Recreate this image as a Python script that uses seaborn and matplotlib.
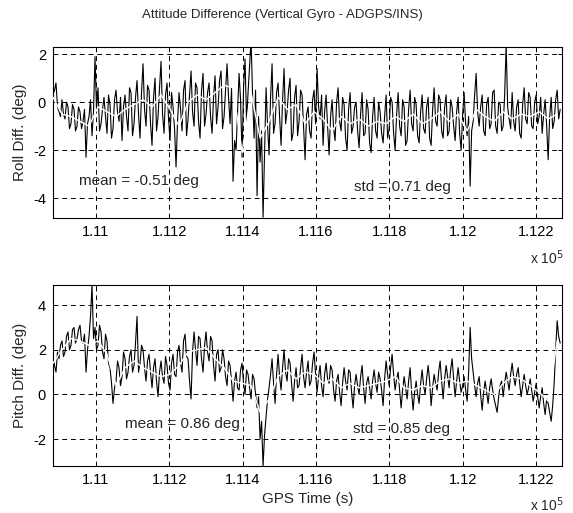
import numpy as np
import pandas as pd
import matplotlib
matplotlib.use("Agg")
import matplotlib.pyplot as plt
import seaborn as sns

# ---------------- data ----------------
# sample times (s); samples are evenly spaced between the first and last time
t_start, t_end_raw, t_end_smooth = 110883.0, 112266.0, 112258.0

roll_raw = [
    0.3, 0.5, 0.8, -0.2, -0.4, -0.6, 0.1, -0.5, -0.7, 0.0, -0.2, -1.1, -0.9, -0.1, -0.3, -1.2, -1.0, -0.2, -0.4, -1.1,
    -0.8, -0.3, -2.3, -0.9, -0.6, 0.1, -1.4, -0.4, 1.9, -0.3, 0.6, -1.2, -0.9, -0.3, 0.2, -0.6, -1.3, 0.3, -0.1, -1.5,
    -1.1, 0.1, 0.5, -0.4, -0.8, 0.2, -1.6, -0.2, 0.3, -0.6, -1.2, 0.6, 0.4, -1.4, -0.9, 0.2, 0.9, -0.5, -1.5, 0.4,
    1.6, -0.3, -1.0, 0.7, 0.5, -0.9, -1.8, 0.2, 1.0, -1.2, -0.6, 0.6, 1.7, -0.5, -1.3, 0.3, 0.8, -0.7, -1.6, 0.4,
    -0.2, -1.1, -2.7, -0.8, 0.4, -0.3, -1.2, 0.5, 0.9, -1.4, -0.7, 0.3, 1.3, -0.4, -1.0, 0.8, 0.6, -0.8, -1.5, 0.5,
    1.2, -1.0, -0.5, 0.4, 0.8, -0.6, -1.3, 0.2, 1.1, -0.9, -0.2, 0.9, 1.3, -1.1, -0.6, 0.5, 1.6, 0.2, -0.9, 0.6,
    -3.3, -1.6, -2.0, -0.4, 1.2, 0.1, -2.3, 0.6, 1.8, -0.8, 0.4, 1.5, 2.6, 0.3, -1.5, 0.5, -3.9, -0.6, -2.5, -1.2,
    -4.8, -2.0, 0.6, -1.0, -2.2, 0.2, 1.6, -1.3, -0.9, 0.4, 0.8, -0.6, -1.8, 0.1, 1.4, -0.9, -0.4, 0.5, 1.0, -1.6,
    -1.3, 0.2, 0.7, -1.4, -0.8, 0.5, 0.3, -1.1, -2.4, -0.5, -0.2, -1.2, -1.5, 0.1, 0.5, -0.9, 1.4, -0.2, -0.7, 0.3,
    -1.8, -0.4, 0.3, -1.0, -2.2, -0.6, 0.1, -1.1, -1.6, 0.0, 0.6, -0.8, -1.2, 0.2, -0.1, -1.5, -2.0, -0.3, 0.4, -1.3,
    -1.0, -0.2, 0.0, -1.2, -1.9, -0.5, 0.4, -1.4, -1.3, 0.1, -0.3, -1.7, -2.1, -0.6, 0.2, -1.2, -1.5, 0.0, -0.4, -1.3,
    -1.7, -0.6, 0.3, -1.5, -1.1, 0.2, 0.0, -1.3, -2.0, -0.5, 0.4, -1.0, -1.4, 0.1, -0.2, -1.8, -1.6, -0.3, 0.5, -0.9,
    -1.2, 0.2, -0.1, -1.4, -1.7, -0.4, 0.3, -1.1, -1.3, -0.2, 0.2, -1.5, -1.8, -0.3, 0.6, -0.8, -1.0, 0.3, 0.1, -1.2,
    -1.5, -0.2, 0.3, -1.4, -1.2, 0.1, -0.2, -1.0, -1.6, -0.4, 0.2, -1.3, -2.0, -0.5, 0.4, -0.9, -1.4, -0.6, -3.5, -1.2,
    -0.8, 0.3, 1.2, -0.4, -1.0, -0.2, 0.3, -1.2, -1.4, -0.1, 0.2, -1.1, -0.9, 0.4, 0.5, -1.0, -1.3, 0.0, -0.1, -1.2,
    -1.0, 0.3, 2.4, -0.2, -0.7, -1.1, 0.4, -0.8, -1.2, -0.2, 0.1, -1.3, -1.5, -0.1, 0.6, -0.7, -0.9, 0.4, 0.2, -1.0,
    -1.1, 0.0, 0.3, -0.9, -0.6, 0.2, -1.3, -0.5, 0.1, -1.0, -2.4, -0.6, 0.2, -1.1, -0.8, 0.1, 0.5, -0.7, -0.3,
]

roll_smooth = [
    0.2, -0.5, -0.6, -0.8, -1.0, -0.2, -0.4, -0.6, -0.3, -0.1,
    0.1, -0.2, 0.3, -0.3, -1.0, 0.0, 0.3, 0.1, 0.4, 0.7,
    0.6, -2.1, 0.4, -1.5, -0.8, 0.2, -0.3, -0.1, -0.9, -0.4,
    -0.7, -1.2, -0.6, -0.9, -0.7, -1.0, -0.8, -0.9, -0.6, -0.8,
    -0.5, -0.9, -0.7, -0.4, -0.8, -0.5, -1.2, -0.3, -0.6, -0.8,
    -0.4, -0.7, -0.5, -0.6, -0.4, -0.7, -0.5,
]

pitch_raw = [
    1.7, 1.3, 1.0, 1.9, 1.6, 2.2, 2.4, 1.7, 1.9, 2.6, 2.8, 2.0, 2.2, 2.9, 3.0, 2.3, 2.5, 2.9, 3.1, 2.4,
    2.3, 2.7, 1.0, 2.0, 2.6, 3.5, 4.9, 2.5, 3.0, 2.0, 2.2, 3.1, 2.8, 1.9, 1.6, 2.7, 2.4, 1.4, 1.2, 0.5,
    -0.4, 0.3, 0.6, 1.5, 1.2, 0.4, 0.8, 1.9, 1.6, 0.7, 1.0, 1.7, 2.0, 1.0, 1.3, 2.3, 3.5, 1.0, 1.4, 2.2,
    2.0, 1.2, 0.6, 1.5, 1.8, 1.0, 0.3, 1.2, 1.6, 0.6, -0.1, 1.0, 1.5, 0.8, 0.5, 1.7, 1.3, 0.5, 0.2, 1.4,
    1.8, 0.9, 0.8, 1.9, 2.2, 1.4, 1.0, 2.4, 2.7, 1.7, 1.6, 0.6, -0.2, 1.9, 2.8, 2.0, 1.3, 2.6, 2.5, 1.6,
    1.0, 2.2, 2.8, 1.9, 1.5, 2.6, 2.4, 1.3, 0.6, 1.8, 2.0, 1.0, 1.2, 2.0, 1.6, 0.8, 0.4, 1.5, 1.3, 0.6,
    -0.3, 0.6, 1.0, 0.3, 0.2, 1.1, 1.4, 0.5, 0.0, 1.1, 0.9, 0.3, -0.2, 0.9, 0.7, 0.0, -0.6, -0.1, -2.0, -1.2,
    -3.2, -1.8, -1.0, -0.2, 0.3, 0.9, 1.6, 0.5, -0.4, 0.9, 1.8, 0.8, 0.2, 1.2, 2.0, 1.0, 0.6, 1.6, 1.4, 0.5,
    -0.3, 0.6, 1.2, 0.3, 0.4, 1.2, 1.8, 0.8, 0.3, 1.0, 1.5, 0.4, 0.6, 1.4, 1.9, 0.9, 0.1, 0.8, 1.3, 0.4,
    -0.1, 0.9, 1.4, 0.7, 0.5, 1.3, 1.1, 0.2, -0.3, 0.6, 0.9, 0.1, -0.5, 0.5, 1.2, 0.6, 0.2, 1.1, 1.0, 0.1,
    -0.6, 0.4, 0.9, 0.4, 0.0, 0.8, 1.3, 0.3, -0.4, 0.5, 0.8, 0.3, -0.2, 0.6, 1.1, 0.5, 0.1, 1.0, 0.7, 0.2,
    -0.5, 0.7, 1.5, 0.9, 0.4, 1.2, 1.8, 0.9, 0.2, 0.7, 1.0, 0.2, -0.6, 0.2, 0.8, 0.3, -0.2, 0.6, 1.2, 0.1,
    -0.7, 0.1, 0.6, 0.0, -0.4, 0.5, 1.1, 0.4, 0.0, 0.7, 1.3, 0.6, -0.5, 0.3, 0.9, 0.5, 0.2, 1.0, 1.5, 0.6,
    -0.2, 0.7, 1.3, 0.8, 0.3, 1.1, 1.6, 0.7, -0.1, 0.6, 1.2, 0.6, 0.1, 0.4, 0.8, 0.2, -0.3, 1.0, 3.0, 1.6,
    1.0, 0.4, -0.1, 0.5, 0.8, 0.0, -0.7, 0.1, 0.6, 0.1, -0.4, 0.3, 0.7, 0.2, -0.2, -0.5, -0.8, -0.1, 0.4, 0.6,
    -0.1, 0.5, 1.0, 0.6, 0.2, 0.9, 1.4, 0.8, 0.4, 0.9, 1.2, 0.5, -0.1, 0.4, 0.9, 0.4, 0.0, 0.3, 0.7, 0.2,
    -0.3, 0.1, 0.5, -0.1, -0.6, -0.1, 0.3, -0.4, -0.9, -0.2, -0.4, -0.8, -1.2, -0.5, 0.5, 2.0, 3.3, 2.6, 2.3,
]

pitch_smooth = [
    1.4, 2.0, 2.5, 2.4, 2.2, 2.4, 1.8, 0.4, 1.2, 1.5,
    1.2, 1.0, 0.8, 0.9, 1.3, 1.9, 2.0, 2.1, 1.6, 1.2,
    0.6, 0.5, 0.4, -0.8, -0.2, 0.8, 1.1, 0.7, 1.0, 0.9,
    0.5, 0.7, 0.3, 0.5, 0.3, 0.4, 0.5, 0.6, 0.8, 0.3,
    0.2, 0.4, 0.3, 0.6, 0.7, 0.5, 0.6, 0.4, 0.2, 0.0,
    0.5, 0.8, 0.7, 0.4, 0.1, -0.3, 2.4,
]

x_ticks = [1.11, 1.112, 1.114, 1.116, 1.118, 1.12, 1.122]
x_tick_labels = ["1.11", "1.112", "1.114", "1.116", "1.118", "1.12", "1.122"]
roll_yticks = [-4, -2, 0, 2]
pitch_yticks = [-2, 0, 2, 4]

title = "Attitude Difference (Vertical Gyro - ADGPS/INS)"
roll_label = "Roll Diff. (deg)"
pitch_label = "Pitch Diff. (deg)"
xlabel = "GPS Time (s)"
roll_mean_txt, roll_std_txt = "mean = -0.51 deg", "std = 0.71 deg"
pitch_mean_txt, pitch_std_txt = "mean = 0.86 deg", "std = 0.85 deg"

# ---------------- build frames ----------------
def frame(vals, t_end):
    t = np.linspace(t_start, t_end, len(vals)) / 1e5
    return pd.DataFrame({"t": t, "v": vals})

roll_raw_df = frame(roll_raw, t_end_raw)
roll_sm_df = frame(roll_smooth, t_end_smooth)
pitch_raw_df = frame(pitch_raw, t_end_raw)
pitch_sm_df = frame(pitch_smooth, t_end_smooth)

# ---------------- figure ----------------
sns.set_style("white")
plt.rcParams["font.family"] = ["Liberation Sans", "DejaVu Sans"]

W, H = 573, 513
fig = plt.figure(figsize=(W / 100, H / 100), dpi=100)

def fx(px):
    return px / W

def fy(py):
    return 1 - py / H

ax1 = fig.add_axes([fx(53), fy(218), fx(562) - fx(53), fy(47) - fy(218)])
ax2 = fig.add_axes([fx(53), fy(466), fx(562) - fx(53), fy(285) - fy(466)])

xlim = (1.10883, 1.12271)

def style(ax, ylim, yticks, ylabel):
    ax.set_xlim(*xlim)
    ax.set_ylim(*ylim)
    ax.set_xticks(x_ticks)
    ax.set_xticklabels(x_tick_labels)
    ax.set_yticks(yticks)
    ax.set_yticklabels([str(v) for v in yticks])
    ax.grid(True, color="black", linestyle=(0, (5, 4)), linewidth=0.7)
    ax.set_axisbelow(True)
    for s in ax.spines.values():
        s.set_color("black")
        s.set_linewidth(0.8)
        s.set_visible(True)
    ax.tick_params(direction="in", length=3, width=0.7, labelsize=10.5,
                   colors="black", pad=5, top=True, right=True)
    ax.set_ylabel(ylabel, fontsize=11, labelpad=4)
    ax.set_xlabel("")

for ax, raw, sm in [(ax1, roll_raw_df, roll_sm_df), (ax2, pitch_raw_df, pitch_sm_df)]:
    sns.lineplot(data=raw, x="t", y="v", ax=ax, color="black", linewidth=0.8,
                 estimator=None, sort=False, zorder=3)
    sns.lineplot(data=sm, x="t", y="v", ax=ax, color="white", linewidth=1.0,
                 estimator=None, sort=False, zorder=4)

style(ax1, (-4.83, 2.3), roll_yticks, roll_label)
style(ax2, (-3.2, 4.9), pitch_yticks, pitch_label)

ax2.set_xlabel(xlabel, fontsize=11, labelpad=4)

ax1.text(1.10954, -3.3, roll_mean_txt, fontsize=11, va="center", ha="left", zorder=5)
ax1.text(1.11704, -3.55, roll_std_txt, fontsize=11, va="center", ha="left", zorder=5)
ax2.text(1.11079, -1.32, pitch_mean_txt, fontsize=11, va="center", ha="left", zorder=5)
ax2.text(1.11701, -1.55, pitch_std_txt, fontsize=11, va="center", ha="left", zorder=5)

fig.text(fx(282), fy(15), title, fontsize=9.5, ha="center", va="center")
fig.text(fx(530), fy(258), r"x 10$^{5}$", fontsize=10, ha="left", va="center")
fig.text(fx(530), fy(505), r"x 10$^{5}$", fontsize=10, ha="left", va="center")

fig.savefig("out.png", dpi=100)
